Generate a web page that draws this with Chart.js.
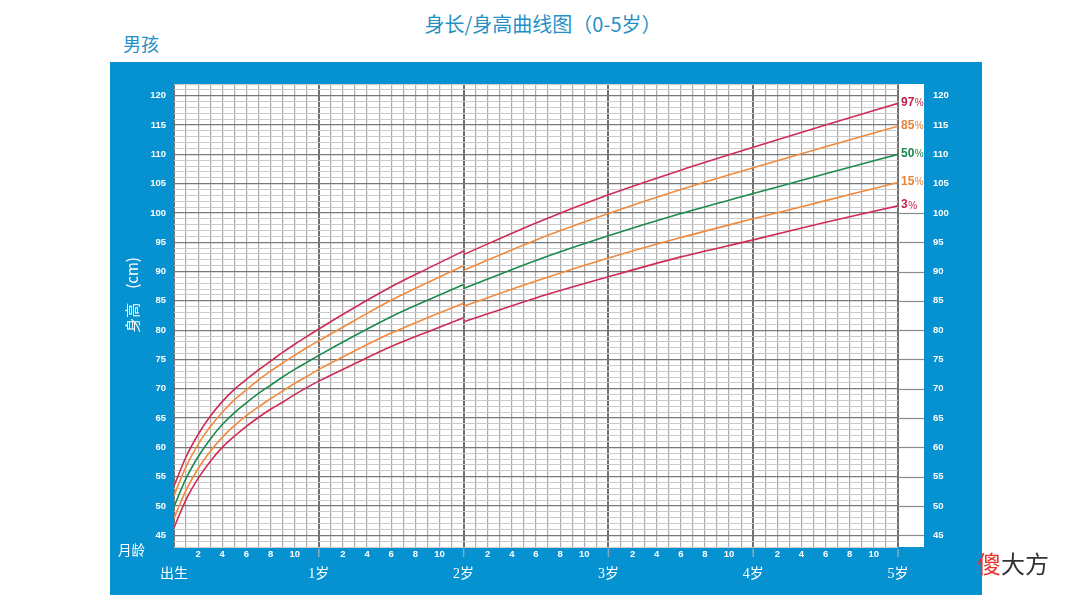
<!DOCTYPE html>
<html>
<head>
<meta charset="utf-8">
<script src="https://cdn.jsdelivr.net/npm/chart.js@4"></script>
<style>
html,body{margin:0;padding:0;background:#fff;width:1069px;height:602px;overflow:hidden;font-family:"Noto Sans CJK SC",sans-serif;}
#title{position:absolute;left:343px;width:400px;top:10px;text-align:center;font-size:20px;line-height:28px;color:#2690c6;z-index:2;}
#boy{position:absolute;left:123px;top:32px;font-size:18px;line-height:22px;color:#2690c6;z-index:2;}
#panel{position:absolute;left:110px;top:62px;width:872px;height:533px;background:#0691d1;}
#ylab{position:absolute;left:132px;top:295px;transform:translate(-50%,-50%) rotate(-90deg);color:#fff;font-size:15px;line-height:16px;white-space:nowrap;z-index:2;}
#ylab b{font-weight:normal;display:inline-block;width:14px;}
#age{position:absolute;left:118px;top:540px;color:#fff;font-size:13.5px;line-height:18px;z-index:2;}
#wm{position:absolute;left:977px;top:549px;font-size:24px;line-height:28px;color:#333;z-index:2;}
#wm span{color:#e8322b;}
</style>
</head>
<body>
<div id="title">身长/身高曲线图（0-5岁）</div>
<div id="boy">男孩</div>
<div id="panel"><canvas id="c"></canvas></div>
<div id="ylab">身高<b></b>(cm)</div>
<div id="age">月龄</div>
<div id="wm"><span>傻</span>大方</div>
<script>
// ---- data (WHO boys, length 0-24 months, height 24-60 months) ----
const lengthMonths = [0,1,2,3,4,5,6,7,8,9,10,11,12,15,18,21,24];
const p3Length  = [46.3,51.1,54.7,57.6,60.0,61.9,63.6,65.1,66.5,67.7,69.0,70.2,71.3,74.3,77.2,79.7,82.1];
const p15Length = [47.9,52.7,56.4,59.3,61.7,63.7,65.4,66.9,68.3,69.6,70.9,72.1,73.3,76.5,79.5,82.1,84.6];
const p50Length = [49.9,54.7,58.4,61.4,63.9,65.9,67.6,69.2,70.6,72.0,73.3,74.5,75.7,79.1,82.3,85.1,87.8];
const p85Length = [51.8,56.7,60.5,63.5,66.0,68.1,69.8,71.5,73.0,74.4,75.7,77.0,78.2,81.7,85.1,88.1,91.0];
const p97Length = [53.4,58.4,62.2,65.3,67.8,69.9,71.6,73.2,74.7,76.2,77.6,78.9,80.2,83.9,87.4,90.5,93.5];

const heightMonths = [24,30,36,42,48,54,60];
const p3Height  = [81.4,85.5,89.1,92.5,95.4,98.4,101.2];
const p15Height = [84.1,88.4,92.3,95.8,99.0,102.1,105.2];
const p50Height = [87.1,91.9,96.1,99.9,103.3,106.7,110.0];
const p85Height = [90.2,95.4,99.9,104.0,107.7,111.3,114.8];
const p97Height = [92.9,98.3,103.1,107.3,111.2,115.0,118.7];

const yearLabels = ['出生','1岁','2岁','3岁','4岁','5岁'];
const percentileNames = ['97','85','50','15','3'];

const RED = '#d12a55', ORANGE = '#f08a3c', GREEN = '#1b8a4c';
const series = [
  {name:percentileNames[0], len:p97Length, hgt:p97Height, color:RED,    label:'#c2224a'},
  {name:percentileNames[1], len:p85Length, hgt:p85Height, color:ORANGE, label:'#e58337'},
  {name:percentileNames[2], len:p50Length, hgt:p50Height, color:GREEN,  label:'#16884a'},
  {name:percentileNames[3], len:p15Length, hgt:p15Height, color:ORANGE, label:'#e58337'},
  {name:percentileNames[4], len:p3Length,  hgt:p3Height,  color:RED,    label:'#c2224a'}
];

const datasets = [];
series.forEach(s => {
  [[lengthMonths, s.len], [heightMonths, s.hgt]].forEach(([xs, ys]) => {
    datasets.push({
      data: xs.map((m, i) => ({x: m, y: ys[i]})),
      borderColor: s.color, borderWidth: 1.6, pointRadius: 0,
      cubicInterpolationMode: 'monotone', fill: false,
      xAxisID: 'x', yAxisID: 'y'
    });
  });
});

const decor = {
  id: 'decor',
  beforeDraw(chart) {
    const {ctx, chartArea: a} = chart;
    ctx.save();
    ctx.fillStyle = '#fff';
    ctx.fillRect(a.left, a.top, a.right - a.left + 26, a.bottom - a.top);
    ctx.restore();
  },
  afterDraw(chart) {
    const {ctx, chartArea: a, scales} = chart;
    const ys = scales.y, xs = scales.x;
    ctx.save();
    ctx.strokeStyle = '#8a8a8a'; ctx.lineWidth = 1.2;
    for (let v = 45; v <= 100; v += 5) {
      const y = Math.round(ys.getPixelForValue(v)) + 0.5;
      ctx.beginPath(); ctx.moveTo(a.right, y); ctx.lineTo(a.right + 26, y); ctx.stroke();
    }
    ctx.strokeStyle = '#8fa9b8'; ctx.lineWidth = 1.5;
    for (let m = 12; m <= 60; m += 12) {
      const x = xs.getPixelForValue(m);
      ctx.beginPath(); ctx.moveTo(x, a.bottom + 2); ctx.lineTo(x, a.bottom + 10); ctx.stroke();
    }
    ctx.textBaseline = 'middle'; ctx.textAlign = 'left';
    series.forEach(s => {
      const y = ys.getPixelForValue(s.hgt[s.hgt.length - 1]) - 1;
      const x = a.right + 3;
      ctx.fillStyle = s.label;
      ctx.font = 'bold 12px "Liberation Sans", Arial, sans-serif';
      ctx.fillText(s.name, x, y);
      const w = ctx.measureText(s.name).width;
      ctx.font = '10px "Liberation Sans", Arial, sans-serif';
      ctx.fillText('%', x + w + 0.5, y + 1);
    });
    ctx.restore();
  }
};

const tickFont = {size: 9.5, weight: 'bold', family: '"Liberation Sans", Arial, sans-serif'};

new Chart(document.getElementById('c'), {
  type: 'line',
  data: {datasets},
  plugins: [decor],
  options: {
    responsive: true, maintainAspectRatio: false, animation: false,
    layout: {padding: {top: 22, left: 0, right: 0, bottom: 0}},
    plugins: {legend: {display: false}, tooltip: {enabled: false}},
    scales: {
      x: {
        type: 'linear', min: 0, max: 60, position: 'bottom',
        ticks: {stepSize: 1, autoSkip: false, maxRotation: 0, color: '#fff', font: tickFont, padding: 2,
          callback: v => { const m = v % 12; return (m !== 0 && m % 2 === 0) ? String(m) : ''; }},
        grid: {drawTicks: false,
          color: c => (c.tick && c.tick.value % 12 === 0) ? '#707070' : '#acacac',
          lineWidth: c => (c.tick && c.tick.value % 12 === 0) ? 2 : 1.2},
        border: {display: false},
        afterFit: s => { s.height = 14; }
      },
      x2: {
        type: 'linear', min: 0, max: 60, position: 'bottom',
        ticks: {stepSize: 12, autoSkip: false, maxRotation: 0, color: '#fff',
          font: {size: 14, family: '"Liberation Serif", "Noto Sans CJK SC", serif'}, padding: 5,
          callback: v => yearLabels[Math.round(v / 12)] || ''},
        grid: {display: false, drawTicks: false},
        border: {display: false},
        afterFit: s => { s.height = 34; }
      },
      y: {
        type: 'linear', min: 43, max: 122, position: 'left',
        ticks: {stepSize: 1, autoSkip: false, color: '#fff', font: tickFont, padding: 8,
          callback: v => v % 5 === 0 ? String(v) : ''},
        grid: {drawTicks: false,
          color: c => (c.tick && c.tick.value % 5 === 0) ? '#7a7a7a' : '#cbcbcb',
          lineWidth: c => (c.tick && c.tick.value % 5 === 0) ? 1.3 : 1},
        border: {display: false},
        afterFit: s => { s.width = 64; s.paddingTop = 0; s.paddingBottom = 0; }
      },
      yR: {
        type: 'linear', min: 43, max: 122, position: 'right',
        ticks: {stepSize: 1, autoSkip: false, color: '#fff', font: tickFont, padding: 35,
          callback: v => v % 5 === 0 ? String(v) : ''},
        grid: {display: false, drawTicks: false},
        border: {display: false},
        afterFit: s => { s.width = 84; s.paddingTop = 0; s.paddingBottom = 0; }
      }
    }
  }
});
</script>
</body>
</html>
